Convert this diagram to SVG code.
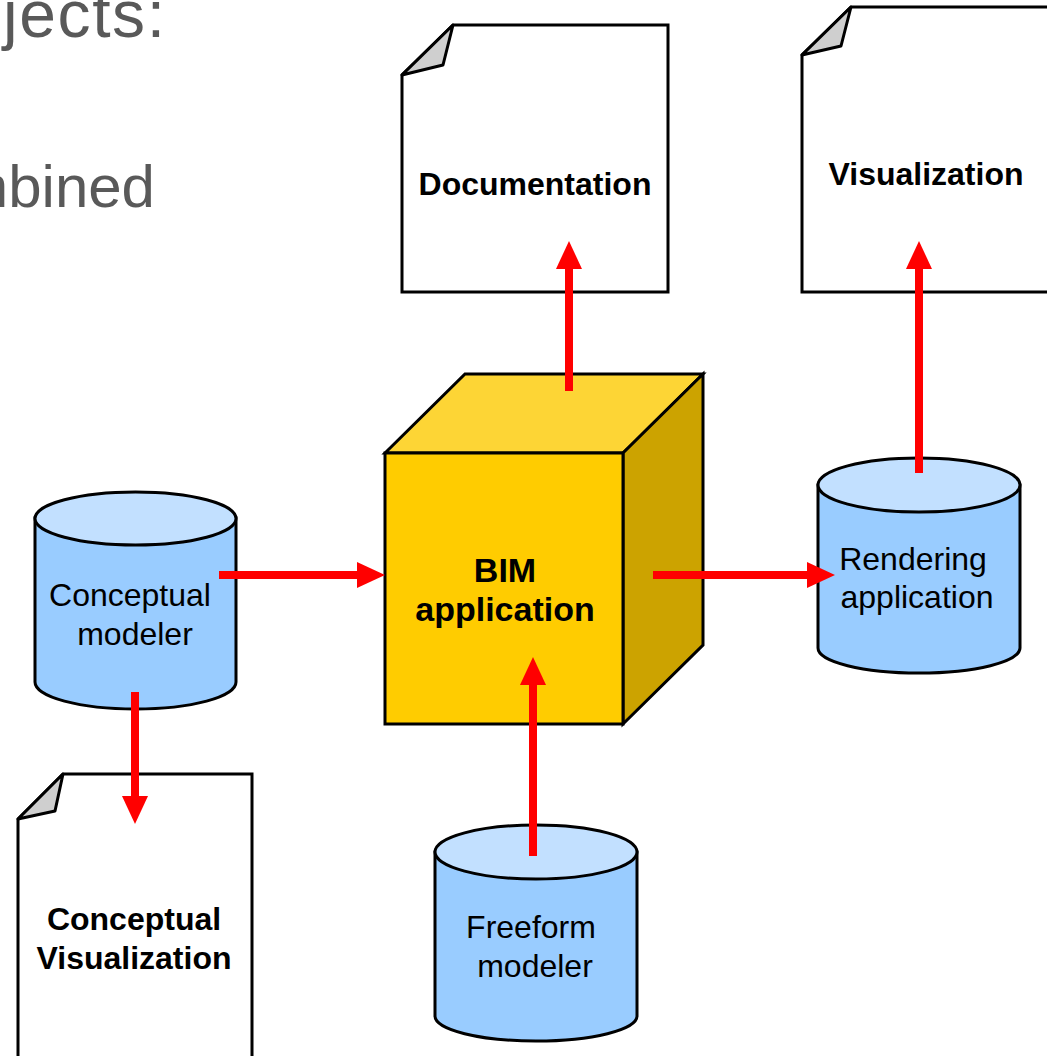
<svg xmlns="http://www.w3.org/2000/svg" width="1047" height="1056" viewBox="0 0 1047 1056">
<defs>
<style>
.doc{fill:#fff;stroke:#000;stroke-width:3;stroke-linejoin:miter}
.fold{fill:#cfcfcf;stroke:#000;stroke-width:3;stroke-linejoin:round}
.cyl{fill:#99ccff;stroke:#000;stroke-width:3}
.cyltop{fill:#c2e0ff;stroke:#000;stroke-width:3}
.cube{stroke:#000;stroke-width:3;stroke-linejoin:miter}
.lbl{font-family:"Liberation Sans",Arial,sans-serif;fill:#000;text-anchor:middle}
.b{font-weight:bold}
.title{font-family:"Liberation Sans",Arial,sans-serif;fill:#595959}
.arr{stroke:#ff0000;stroke-width:8;fill:none;marker-end:url(#ah)}
</style>
<marker id="ah" markerUnits="userSpaceOnUse" markerWidth="28" markerHeight="26" refX="1" refY="13" orient="auto" overflow="visible">
<path d="M0,0 L28,13 L0,26 Z" fill="#ff0000"/>
</marker>
</defs>
<rect width="1047" height="1056" fill="#fff"/>
<text class="title" x="3" y="37" font-size="66" textLength="162" lengthAdjust="spacing">jects:</text>
<text class="title" x="155" y="207" font-size="60" text-anchor="end">mbined</text>

<g id="doc-documentation">
<path class="doc" d="M453,25 L668,25 L668,292 L402,292 L402,75 Z"/>
<path class="fold" d="M402,75 L453,25 L443,65 Z"/>
<text class="lbl b" x="535" y="195" font-size="32">Documentation</text>
</g>

<g id="doc-visualization">
<path class="doc" d="M851,7 L1070,7 L1070,292 L802,292 L802,55 Z"/>
<path class="fold" d="M802,55 L851,7 L841,46 Z"/>
<text class="lbl b" x="926" y="185" font-size="32">Visualization</text>
</g>

<g id="doc-conceptual-visualization">
<path class="doc" d="M63,774 L252,774 L252,1070 L18,1070 L18,819 Z"/>
<path class="fold" d="M18,819 L63,774 L55,811 Z"/>
<text class="lbl b" x="134" y="930" font-size="32">Conceptual</text>
<text class="lbl b" x="134" y="969" font-size="32">Visualization</text>
</g>

<g id="bim-application">
<path class="cube" fill="#fdd535" d="M385,453 L465,374 L703,374 L623,453 Z"/>
<path class="cube" fill="#cca300" d="M623,453 L703,374 L703,645 L623,724 Z"/>
<rect class="cube" fill="#ffcc00" x="385" y="453" width="238" height="271"/>
<text class="lbl b" x="505" y="582" font-size="34">BIM</text>
<text class="lbl b" x="505" y="621" font-size="34">application</text>
</g>

<g id="conceptual-modeler">
<path class="cyl" d="M35,518 L35,682 A100.5,27 0 0 0 236,682 L236,518 Z"/>
<ellipse class="cyltop" cx="135.5" cy="518.5" rx="100.5" ry="26.5"/>
<text class="lbl" x="130" y="606" font-size="32">Conceptual</text>
<text class="lbl" x="135" y="645" font-size="32">modeler</text>
</g>

<g id="freeform-modeler">
<path class="cyl" d="M435,852 L435,1016 A101,25 0 0 0 637,1016 L637,852 Z"/>
<ellipse class="cyltop" cx="536" cy="852" rx="101" ry="27"/>
<text class="lbl" x="531" y="938" font-size="32">Freeform</text>
<text class="lbl" x="535" y="977" font-size="32">modeler</text>
</g>

<g id="rendering-application">
<path class="cyl" d="M818,485 L818,648 A101,25 0 0 0 1020,648 L1020,485 Z"/>
<ellipse class="cyltop" cx="919" cy="485" rx="101" ry="27"/>
<text class="lbl" x="913" y="570" font-size="32">Rendering</text>
<text class="lbl" x="917" y="608" font-size="32">application</text>
</g>

<g id="connectors">
<path class="arr" d="M219,575 L358,575"/>
<path class="arr" d="M653,575 L808,575"/>
<path class="arr" d="M569,391 L569,268"/>
<path class="arr" d="M919,473 L919,268"/>
<path class="arr" d="M533,856 L533,684"/>
<path class="arr" d="M135,692 L135,797"/>
</g>
</svg>
